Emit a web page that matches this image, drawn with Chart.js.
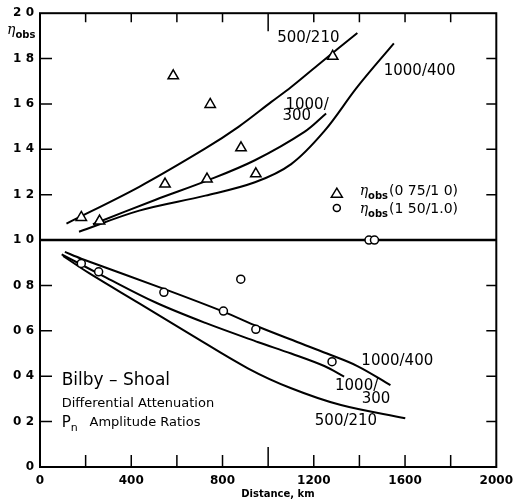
<!DOCTYPE html>
<html>
<head>
<meta charset="utf-8">
<script src="https://cdn.jsdelivr.net/npm/chart.js@4.4.1/dist/chart.umd.min.js"></script>
<style>
  html, body { margin: 0; padding: 0; background: #fff; }
  #wrap { width: 520px; height: 500px; }
</style>
</head>
<body>
<div id="wrap"><canvas id="attenChart" width="520" height="500"></canvas></div>
<script>
// observed ratios, distance in km
const triDist = [181, 261, 548, 584, 732, 746, 881, 946, 1283];
const triRatio = [1.10, 1.084, 1.247, 1.724, 1.269, 1.598, 1.407, 1.292, 1.81];
const circDist = [181, 257, 543, 804, 880, 946, 1280];
const circRatio = [0.897, 0.860, 0.770, 0.687, 0.828, 0.607, 0.464];
const infDist = [1442, 1466];
const infRatio = [1.0, 1.0];

// model curves, upper half (0.75/1.0)
const up500Dist = [116, 435, 725, 870, 1014, 1101, 1217, 1391];
const up500Ratio = [1.073, 1.235, 1.404, 1.499, 1.609, 1.675, 1.771, 1.913];
const up1000aDist = [232, 507, 732, 942, 1159, 1254];
const up1000aRatio = [1.070, 1.178, 1.262, 1.352, 1.477, 1.558];
const up1000bDist = [171, 435, 725, 942, 1101, 1246, 1391, 1551];
const up1000bRatio = [1.037, 1.130, 1.196, 1.255, 1.335, 1.48, 1.675, 1.867];

// model curves, lower half (1.50/1.0)
const lo1000bDist = [109, 181, 543, 803, 957, 1130, 1258, 1391, 1536];
const lo1000bRatio = [0.948, 0.918, 0.785, 0.685, 0.618, 0.55, 0.50, 0.445, 0.361];
const lo1000aDist = [95, 290, 507, 725, 957, 1101, 1246, 1333];
const lo1000aRatio = [0.937, 0.835, 0.725, 0.635, 0.550, 0.500, 0.445, 0.398];
const lo500Dist = [101, 217, 435, 652, 911, 1101, 1319, 1601];
const lo500Ratio = [0.930, 0.853, 0.721, 0.589, 0.435, 0.347, 0.273, 0.215];

const xTickLabels = ['0', '', '400', '', '800', '', '1200', '', '1600', '', '2000'];
const yTickLabels = ['0', '0 2', '0 4', '0 6', '0 8', '1 0', '1 2', '1 4', '1 6', '1 8', '2 0'];

const pts = (xs, ys) => xs.map((v, i) => ({ x: v, y: ys[i] }));

const curve = (xs, ys) => ({
    data: pts(xs, ys),
    showLine: true,
    borderColor: '#000',
    borderWidth: 2,
    pointRadius: 0,
    tension: 0.35,
    fill: false
});

const marks = (xs, ys, style, r) => ({
    data: pts(xs, ys),
    showLine: false,
    pointStyle: style,
    pointRadius: r,
    pointBackgroundColor: '#fff',
    pointBorderColor: '#000',
    pointBorderWidth: 1.5
});

const SANS = '"DejaVu Sans", sans-serif';

function eta(ctx, px, py, size, subSize) {
    ctx.font = 'italic ' + size + 'px "DejaVu Serif", serif';
    ctx.fillText('\u03b7', px, py);
    const w = ctx.measureText('\u03b7').width;
    ctx.font = 'bold ' + subSize + 'px ' + SANS;
    ctx.fillText('obs', px + w, py + size * 0.4);
    return w + ctx.measureText('obs').width;
}

const frame = {
    id: 'frame',
    beforeDatasetsDraw(chart) {
        const { ctx, chartArea: a, scales: { y } } = chart;
        ctx.save();
        ctx.strokeStyle = '#000';
        ctx.lineWidth = 2.5;
        const py = y.getPixelForValue(1.0);
        ctx.beginPath();
        ctx.moveTo(a.left, py);
        ctx.lineTo(a.right, py);
        ctx.stroke();
        ctx.restore();
    },
    afterDatasetsDraw(chart) {
        const { ctx, chartArea: a, scales: { x, y } } = chart;
        ctx.save();
        ctx.strokeStyle = '#000';
        ctx.fillStyle = '#000';
        ctx.lineWidth = 2;
        ctx.strokeRect(a.left, a.top, a.right - a.left, a.bottom - a.top);

        ctx.lineWidth = 1.5;
        ctx.beginPath();
        x.ticks.forEach(t => {
            if (t.value <= 0 || t.value >= 2000) return;
            const px = x.getPixelForValue(t.value);
            const big = t.value === 1000;
            ctx.moveTo(px, a.bottom);
            ctx.lineTo(px, a.bottom - (big ? 20 : 12));
            ctx.moveTo(px, a.top);
            ctx.lineTo(px, a.top + (big ? 18 : 9));
        });
        y.ticks.forEach(t => {
            if (t.value <= 0.01 || t.value >= 1.99) return;
            const py = y.getPixelForValue(t.value);
            ctx.moveTo(a.left, py);
            ctx.lineTo(a.left + 12, py);
            ctx.moveTo(a.right, py);
            ctx.lineTo(a.right - 10, py);
        });
        ctx.stroke();

        ctx.textBaseline = 'middle';
        const put = (txt, dx, dy, align, font) => {
            ctx.font = font;
            ctx.textAlign = align;
            ctx.fillText(txt, x.getPixelForValue(dx), y.getPixelForValue(dy));
        };
        const lab = '15px ' + SANS;
        put('500/210', 1176, 1.890, 'center', lab);
        put('1000/400', 1664, 1.744, 'center', lab);
        put('1000/', 1076, 1.595, 'left', lab);
        put('300', 1063, 1.546, 'left', lab);
        put('1000/400', 1566, 0.467, 'center', lab);
        put('1000/', 1293, 0.357, 'left', lab);
        put('300', 1410, 0.300, 'left', lab);
        put('500/210', 1341, 0.203, 'center', lab);

        put('Bilby \u2013 Shoal', 95, 0.379, 'left', '17px ' + SANS);
        put('Differential Attenuation', 95, 0.278, 'left', '13px ' + SANS);
        ctx.textAlign = 'left';
        ctx.font = '15px ' + SANS;
        const pX = x.getPixelForValue(95), pY = y.getPixelForValue(0.194);
        ctx.fillText('P', pX, pY);
        const pw = ctx.measureText('P').width;
        ctx.font = '11px ' + SANS;
        ctx.fillText('n', pX + pw, pY + 5);
        put('Amplitude Ratios', 217, 0.194, 'left', '13px ' + SANS);

        // legend
        ctx.lineWidth = 1.5;
        ctx.fillStyle = '#fff';
        const tx = x.getPixelForValue(1301), ty1 = y.getPixelForValue(1.207), ty2 = y.getPixelForValue(1.141);
        ctx.beginPath();
        ctx.moveTo(tx, ty1 - 5);
        ctx.lineTo(tx + 5.5, ty1 + 4);
        ctx.lineTo(tx - 5.5, ty1 + 4);
        ctx.closePath();
        ctx.fill();
        ctx.stroke();
        ctx.beginPath();
        ctx.arc(tx, ty2, 3.5, 0, Math.PI * 2);
        ctx.fill();
        ctx.stroke();
        ctx.fillStyle = '#000';
        ctx.textAlign = 'left';
        const lx = x.getPixelForValue(1401);
        let w = eta(ctx, lx, ty1 - 2, 14, 10);
        ctx.font = '14px ' + SANS;
        ctx.fillText('(0 75/1 0)', lx + w + 1, ty1 - 2);
        w = eta(ctx, lx, ty2 + 1, 14, 10);
        ctx.font = '14px ' + SANS;
        ctx.fillText('(1 50/1.0)', lx + w + 1, ty2 + 1);

        // axis titles
        eta(ctx, a.left - 33, a.top + 17, 14, 10);
        ctx.font = 'bold 10px ' + SANS;
        ctx.textAlign = 'center';
        ctx.fillText('Distance, km', x.getPixelForValue(1043), a.bottom + 27);
        ctx.restore();
    }
};

new Chart(document.getElementById('attenChart'), {
    type: 'scatter',
    data: {
        datasets: [
            marks(triDist, triRatio, 'triangle', 6),
            marks(circDist, circRatio, 'circle', 4),
            marks(infDist, infRatio, 'circle', 4),
            curve(up500Dist, up500Ratio),
            curve(up1000aDist, up1000aRatio),
            curve(up1000bDist, up1000bRatio),
            curve(lo1000bDist, lo1000bRatio),
            curve(lo1000aDist, lo1000aRatio),
            curve(lo500Dist, lo500Ratio)
        ]
    },
    options: {
        responsive: false,
        animation: false,
        layout: { padding: { top: 13, right: 19, left: 0, bottom: 0 } },
        plugins: { legend: { display: false }, tooltip: { enabled: false } },
        scales: {
            x: {
                type: 'linear',
                min: 0,
                max: 2000,
                grid: { display: false, drawTicks: false },
                border: { display: false },
                afterFit: s => { s.height = 33; },
                ticks: {
                    stepSize: 200,
                    padding: 7,
                    color: '#000',
                    maxRotation: 0,
                    autoSkip: false,
                    font: { family: 'DejaVu Sans', weight: 'bold', size: 12 },
                    callback: (v, i) => xTickLabels[i]
                }
            },
            y: {
                min: 0,
                max: 2,
                grid: { display: false, drawTicks: false },
                border: { display: false },
                afterFit: s => { s.width = 40; },
                ticks: {
                    stepSize: 0.2,
                    padding: 6,
                    color: '#000',
                    autoSkip: false,
                    font: { family: 'DejaVu Sans', weight: 'bold', size: 12 },
                    callback: (v, i) => yTickLabels[i]
                }
            }
        }
    },
    plugins: [frame]
});
</script>
</body>
</html>
